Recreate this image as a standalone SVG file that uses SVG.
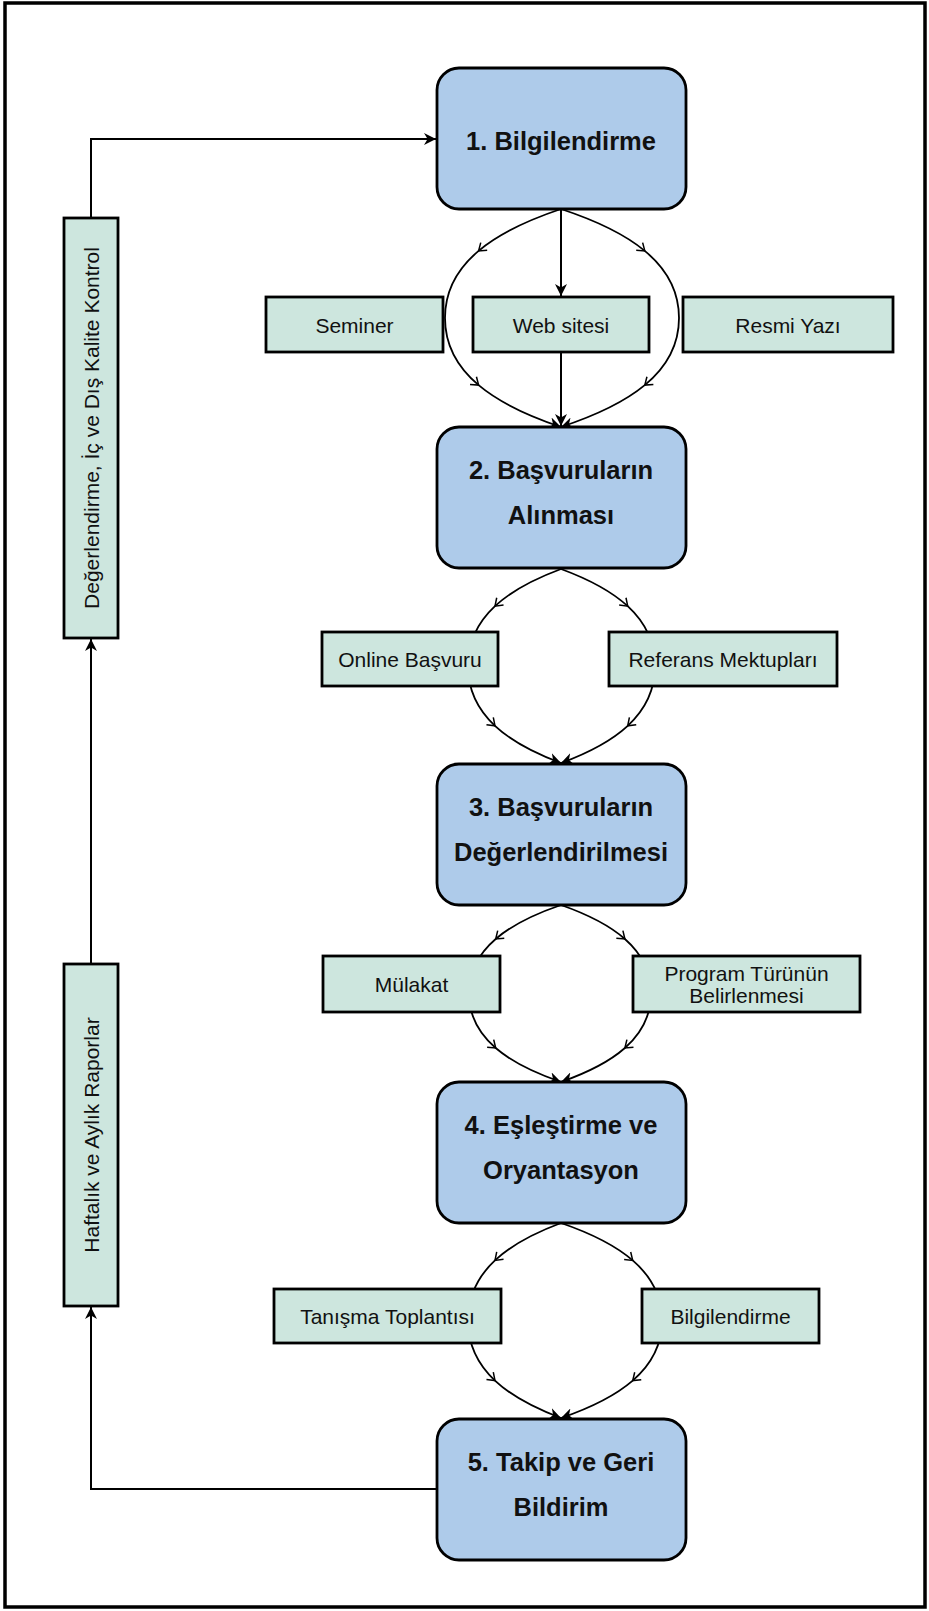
<svg xmlns="http://www.w3.org/2000/svg" xmlns:xlink="http://www.w3.org/1999/xlink" width="929" height="1611" viewBox="0 0 929 1611">
  <style>
    .frame { fill: #ffffff; stroke: #000; stroke-width: 3.5; }
    .step { fill: #aecbea; stroke: #000; stroke-width: 2.8; }
    .sub { fill: #cde6de; stroke: #000; stroke-width: 2.8; }
    .stepText { font-family: "Liberation Sans", Arial, sans-serif; font-weight: bold; font-size: 25.5px; fill: #111; text-anchor: middle; }
    .subText { font-family: "Liberation Sans", Arial, sans-serif; font-size: 21px; fill: #111; text-anchor: middle; }
    .link { fill: none; stroke: #000; stroke-width: 2; }
    .curve { fill: none; stroke: #000; stroke-width: 1.8; }
    .vee { fill: none; stroke: #000; stroke-width: 1.5; }
  </style>
  <defs>
    <marker id="head" viewBox="0 0 10 10" refX="10" refY="5" markerWidth="12" markerHeight="12" markerUnits="userSpaceOnUse" orient="auto">
      <path d="M0,0 L10,5 L0,10 L3,5 z" fill="#000"/>
    </marker>
    <path id="v" class="vee" d="M-7,-5 L0,0 L-7,5"/>
  </defs>

  <rect class="frame" x="5" y="3" width="920" height="1604"/>

  <g id="connectors">
    <!-- feedback loop on the left -->
    <path class="link" d="M91,218 V139 H436" marker-end="url(#head)"/>
    <path class="link" d="M91,964 V639" stroke-width="1.4" marker-end="url(#head)"/>
    <path class="link" d="M437,1489 H91 V1307" marker-end="url(#head)"/>

    <!-- step 1 to step 2 -->
    <path class="link" d="M561,209 V296" marker-end="url(#head)"/>
    <path class="link" d="M561,352 V426" marker-end="url(#head)"/>
    <path class="curve" d="M561,209 C496,230.8 445,262.4 445,318 C445,373.6 496,405.2 561,427" marker-end="url(#head)"/>
    <path class="curve" d="M561,209 C627,230.8 679,262.4 679,318 C679,373.6 627,405.2 561,427" marker-end="url(#head)"/>
    <use xlink:href="#v" transform="translate(478.6,250.9) rotate(140)"/>
    <use xlink:href="#v" transform="translate(478.6,385.1) rotate(40)"/>
    <use xlink:href="#v" transform="translate(644.8,250.9) rotate(40)"/>
    <use xlink:href="#v" transform="translate(644.8,385.1) rotate(140)"/>

    <!-- step 2 to step 3 -->
    <path class="curve" d="M561,569 C508.9,588.4 468,616.5 468,666 C468,715.5 508.9,743.6 561,763" marker-end="url(#head)"/>
    <path class="curve" d="M561,569 C613.6,588.4 655,616.5 655,666 C655,715.5 613.6,743.6 561,763" marker-end="url(#head)"/>
    <use xlink:href="#v" transform="translate(495,606.2) rotate(137)"/>
    <use xlink:href="#v" transform="translate(495,725.8) rotate(43)"/>
    <use xlink:href="#v" transform="translate(627.7,606.2) rotate(43)"/>
    <use xlink:href="#v" transform="translate(627.7,725.8) rotate(137)"/>

    <!-- step 3 to step 4 -->
    <path class="curve" d="M561,905 C509.5,922.7 469,948.4 469,993.5 C469,1038.6 509.5,1064.3 561,1082" marker-end="url(#head)"/>
    <path class="curve" d="M561,905 C611.4,922.7 651,948.4 651,993.5 C651,1038.6 611.4,1064.3 561,1082" marker-end="url(#head)"/>
    <use xlink:href="#v" transform="translate(495.7,939) rotate(139)"/>
    <use xlink:href="#v" transform="translate(495.7,1048) rotate(41)"/>
    <use xlink:href="#v" transform="translate(624.9,939) rotate(41)"/>
    <use xlink:href="#v" transform="translate(624.9,1048) rotate(139)"/>

    <!-- step 4 to step 5 -->
    <path class="curve" d="M561,1223 C508.9,1242.5 468,1270.8 468,1320.5 C468,1370.2 508.9,1398.5 561,1418" marker-end="url(#head)"/>
    <path class="curve" d="M561,1223 C617.6,1242.5 662,1270.8 662,1320.5 C662,1370.2 617.6,1398.5 561,1418" marker-end="url(#head)"/>
    <use xlink:href="#v" transform="translate(495,1260.4) rotate(137)"/>
    <use xlink:href="#v" transform="translate(495,1380.6) rotate(43)"/>
    <use xlink:href="#v" transform="translate(632.7,1260.4) rotate(41)"/>
    <use xlink:href="#v" transform="translate(632.7,1380.6) rotate(139)"/>
  </g>

  <!-- main steps -->
  <g id="step1">
    <rect class="step" x="437" y="68" width="249" height="141" rx="22"/>
    <text class="stepText" x="561" y="149.5">1. Bilgilendirme</text>
  </g>
  <g id="step2">
    <rect class="step" x="437" y="427" width="249" height="141" rx="22"/>
    <text class="stepText" x="561" y="478.5">2. Başvuruların</text>
    <text class="stepText" x="561" y="523.5">Alınması</text>
  </g>
  <g id="step3">
    <rect class="step" x="437" y="764" width="249" height="141" rx="22"/>
    <text class="stepText" x="561" y="815.5">3. Başvuruların</text>
    <text class="stepText" x="561" y="860.5">Değerlendirilmesi</text>
  </g>
  <g id="step4">
    <rect class="step" x="437" y="1082" width="249" height="141" rx="22"/>
    <text class="stepText" x="561" y="1133.5">4. Eşleştirme ve</text>
    <text class="stepText" x="561" y="1178.5">Oryantasyon</text>
  </g>
  <g id="step5">
    <rect class="step" x="437" y="1419" width="249" height="141" rx="22"/>
    <text class="stepText" x="561" y="1470.5">5. Takip ve Geri</text>
    <text class="stepText" x="561" y="1515.5">Bildirim</text>
  </g>

  <!-- sub activities -->
  <g id="seminer">
    <rect class="sub" x="266" y="297" width="177" height="55"/>
    <text class="subText" x="354.5" y="332.5">Seminer</text>
  </g>
  <g id="web-sitesi">
    <rect class="sub" x="473" y="297" width="176" height="55"/>
    <text class="subText" x="561" y="332.5">Web sitesi</text>
  </g>
  <g id="resmi-yazi">
    <rect class="sub" x="683" y="297" width="210" height="55"/>
    <text class="subText" x="788" y="332.5">Resmi Yazı</text>
  </g>
  <g id="online-basvuru">
    <rect class="sub" x="322" y="632" width="176" height="54"/>
    <text class="subText" x="410" y="667">Online Başvuru</text>
  </g>
  <g id="referans">
    <rect class="sub" x="609" y="632" width="228" height="54"/>
    <text class="subText" x="723" y="667">Referans Mektupları</text>
  </g>
  <g id="mulakat">
    <rect class="sub" x="323" y="956" width="177" height="56"/>
    <text class="subText" x="411.5" y="992">Mülakat</text>
  </g>
  <g id="program-turu">
    <rect class="sub" x="633" y="956" width="227" height="56"/>
    <text class="subText" x="746.5" y="981">Program Türünün</text>
    <text class="subText" x="746.5" y="1003">Belirlenmesi</text>
  </g>
  <g id="tanisma">
    <rect class="sub" x="274" y="1289" width="227" height="54"/>
    <text class="subText" x="387.5" y="1324">Tanışma Toplantısı</text>
  </g>
  <g id="bilgilendirme">
    <rect class="sub" x="642" y="1289" width="177" height="54"/>
    <text class="subText" x="730.5" y="1324">Bilgilendirme</text>
  </g>

  <!-- vertical side boxes -->
  <g id="kalite-kontrol">
    <rect class="sub" x="64" y="218" width="54" height="420"/>
    <text class="subText" transform="translate(98.5,428) rotate(-90)">Değerlendirme, İç ve Dış Kalite Kontrol</text>
  </g>
  <g id="raporlar">
    <rect class="sub" x="64" y="964" width="54" height="342"/>
    <text class="subText" transform="translate(98.5,1135) rotate(-90)">Haftalık ve Aylık Raporlar</text>
  </g>
</svg>
